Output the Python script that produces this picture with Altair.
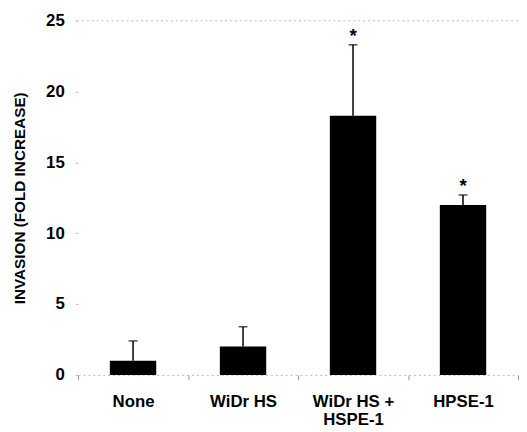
import altair as alt
import pandas as pd

categories = ["None", "WiDr HS", "WiDr HS + HSPE-1", "HPSE-1"]
means = [1.0, 2.0, 18.3, 12.0]
errors = [1.4, 1.4, 5.0, 0.7]
significant = ["", "", "*", "*"]
y_ticks = [0, 5, 10, 15, 20, 25]

df = pd.DataFrame({
    "cat": categories,
    "mean": means,
    "top": [m + e for m, e in zip(means, errors)],
    "sig": significant,
})

FONT = "Liberation Sans"

x_enc = alt.X("cat:N", sort=categories, title=None,
              scale=alt.Scale(paddingInner=0, paddingOuter=0),
              axis=alt.Axis(labelAngle=0, labelFontSize=17, labelFontWeight="bold",
                            labelFont=FONT, labelColor="black",
                            labelExpr="datum.label == 'WiDr HS + HSPE-1' ? ['WiDr HS +', 'HSPE-1'] : datum.label",
                            labelLineHeight=18, labelPadding=14,
                            tickBand="extent", tickSize=5, tickColor="#999999",
                            domainColor="#bbbbbb", domainDash=[2, 3], domainWidth=1))

y_scale = alt.Scale(domain=[0, 25], nice=False)

bars = alt.Chart(df).mark_bar(size=47, color="black").encode(
    x=x_enc,
    y=alt.Y("mean:Q", scale=y_scale, title="INVASION (FOLD INCREASE)",
            axis=alt.Axis(values=y_ticks, labelFontSize=17, labelFontWeight="bold",
                          labelFont=FONT, labelColor="black", labelPadding=11,
                          tickSize=3, tickColor="#bbbbbb", domain=False, grid=False,
                          titleFont=FONT, titleFontSize=15.5, titleFontWeight="bold",
                          titleColor="black", titlePadding=18)),
)

stems = alt.Chart(df).mark_rule(color="black", strokeWidth=1.5).encode(
    x=alt.X("cat:N", sort=categories),
    y="mean:Q",
    y2="top:Q",
)

caps = alt.Chart(df).mark_tick(color="black", size=9, thickness=1.5, orient="horizontal").encode(
    x=alt.X("cat:N", sort=categories),
    y="top:Q",
)

stars = alt.Chart(df).mark_text(fontSize=19, fontWeight="bold", font=FONT,
                                baseline="alphabetic", dy=-3, color="black").encode(
    x=alt.X("cat:N", sort=categories),
    y="top:Q",
    text="sig:N",
)

top_line = alt.Chart(pd.DataFrame({"y": [25]})).mark_rule(
    color="#bbbbbb", strokeDash=[2, 3], strokeWidth=1).encode(y="y:Q")

chart = alt.layer(top_line, bars, stems, caps, stars).properties(
    width=446, height=359,
    padding={"left": 5, "top": 1, "right": 0, "bottom": 5},
).configure_view(stroke=None)

chart.save("out.html", embed_options={"renderer": "svg", "actions": False})
